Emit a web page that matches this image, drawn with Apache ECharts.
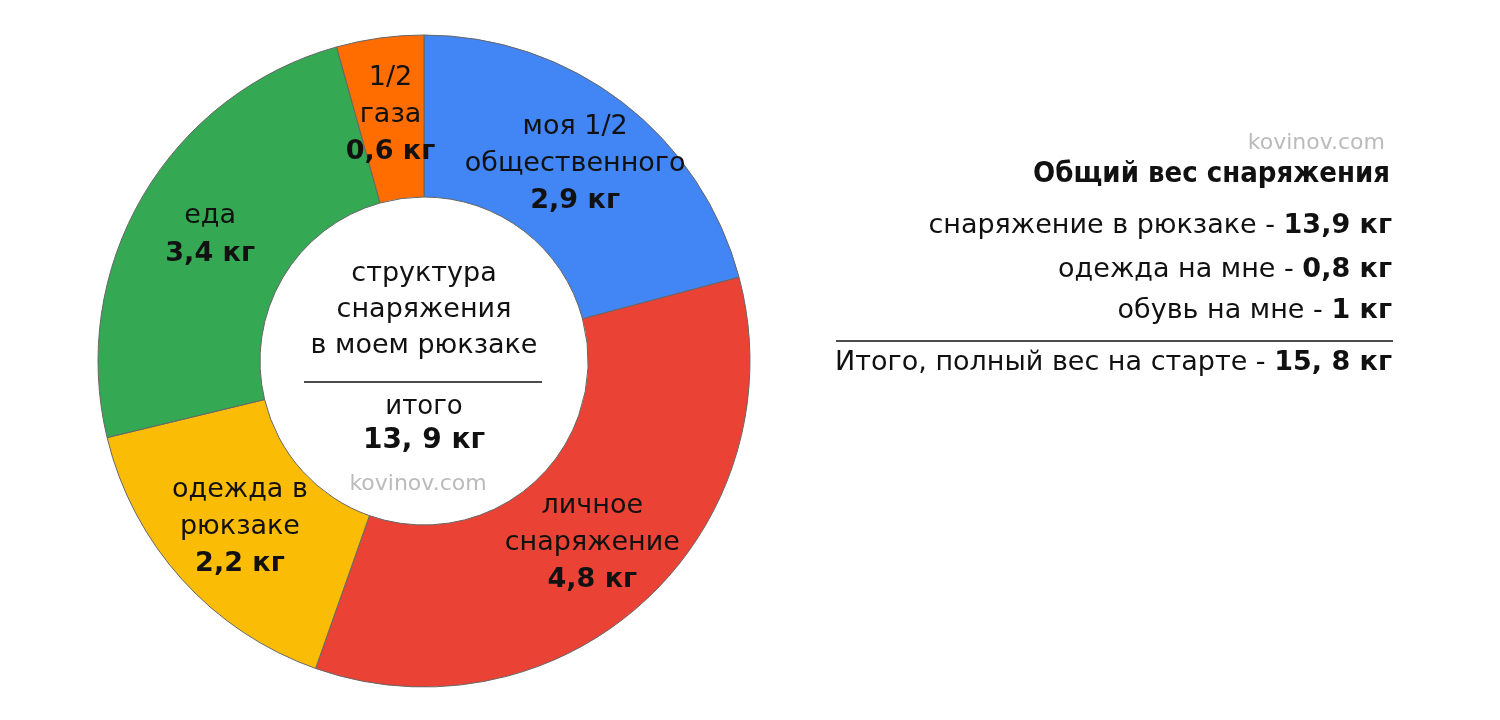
<!DOCTYPE html>
<html><head><meta charset="utf-8">
<script src="https://cdn.jsdelivr.net/npm/echarts@6/dist/echarts.min.js"></script>
<style>html,body{margin:0;background:#fff}#c{width:1500px;height:720px}</style>
</head><body><div id="c"></div>
<script>
var names = ['моя 1/2\nобщественного', 'личное\nснаряжение', 'одежда в\nрюкзаке', 'еда', '1/2\nгаза'];
var values = [2.9, 4.8, 2.2, 3.4, 0.6];
var valueLabels = ['2,9 кг', '4,8 кг', '2,2 кг', '3,4 кг', '0,6 кг'];
var colors = ['#4285F4', '#EA4335', '#FBBC05', '#34A853', '#FF6D01'];
var centerLines = ['структура', 'снаряжения', 'в моем рюкзаке'];
var centerTotal = ['итого', '13, 9 кг'];
var rightLines = [
  ['снаряжение в рюкзаке - ', '13,9 кг'],
  ['одежда на мне - ', '0,8 кг'],
  ['обувь на мне - ', '1 кг']
];
var finalLine = ['Итого, полный вес на старте - ', '15, 8 кг'];

var F = 'DejaVu Sans';
var chart = echarts.init(document.getElementById('c'));
var data = names.map(function(n, i){
  return {name: n, value: values[i], itemStyle: {color: colors[i]}};
});
var graphic = [
  {type:'text', x:424, y:256, style:{text:centerLines.join('\n'), font:'27px "'+F+'"', lineHeight:36, fill:'#111', align:'center'}},
  {type:'line', shape:{x1:304,y1:382,x2:542,y2:382}, style:{stroke:'#111', lineWidth:1.5}},
  {type:'text', x:424, y:394, style:{text:centerTotal[0], font:'26px "'+F+'"', fill:'#111', align:'center'}},
  {type:'text', x:424, y:427, style:{text:centerTotal[1], font:'bold 28px "'+F+'"', fill:'#111', align:'center'}},
  {type:'text', x:418, y:473, style:{text:'kovinov.com', font:'22px "'+F+'"', fill:'#bbb', align:'center'}},
  {type:'text', x:1385, y:132, style:{text:'kovinov.com', font:'22px "'+F+'"', fill:'#bbb', align:'right'}},
  {type:'text', x:1390, y:160, style:{text:'Общий вес снаряжения', font:'bold 29px "DejaVu Sans Condensed"', fill:'#111', align:'right'}},
  {type:'line', shape:{x1:836,y1:341,x2:1393,y2:341}, style:{stroke:'#111', lineWidth:1.5}}
];
var ys = [212, 256, 297];
rightLines.concat([finalLine]).forEach(function(l, i){
  var y = i < 3 ? ys[i] : 349;
  graphic.push({type:'text', x:1392, y:y, style:{
    text:'{a|'+l[0]+'}{b|'+l[1]+'}', align:'right',
    rich:{a:{font:'27px "'+F+'"', fill:'#111'}, b:{font:'bold 27px "'+F+'"', fill:'#111'}}
  }});
});

chart.setOption({
  animation:false,
  graphic: graphic,
  series:[{
    type:'pie', center:[424,361], radius:[164,326], startAngle:90, clockwise:true,
    data:data,
    itemStyle:{borderColor:'#666', borderWidth:1},
    label:{position:'inside', formatter:function(p){
        return '{n|'+p.name+'}\n{v|'+valueLabels[p.dataIndex]+'}';
      },
      rich:{n:{fontFamily:F, fontSize:27, color:'#111', lineHeight:37, align:'center'},
            v:{fontFamily:F, fontSize:27, fontWeight:'bold', color:'#111', lineHeight:38, align:'center'}}
    },
    labelLine:{show:false}
  }]
});
</script></body></html>
